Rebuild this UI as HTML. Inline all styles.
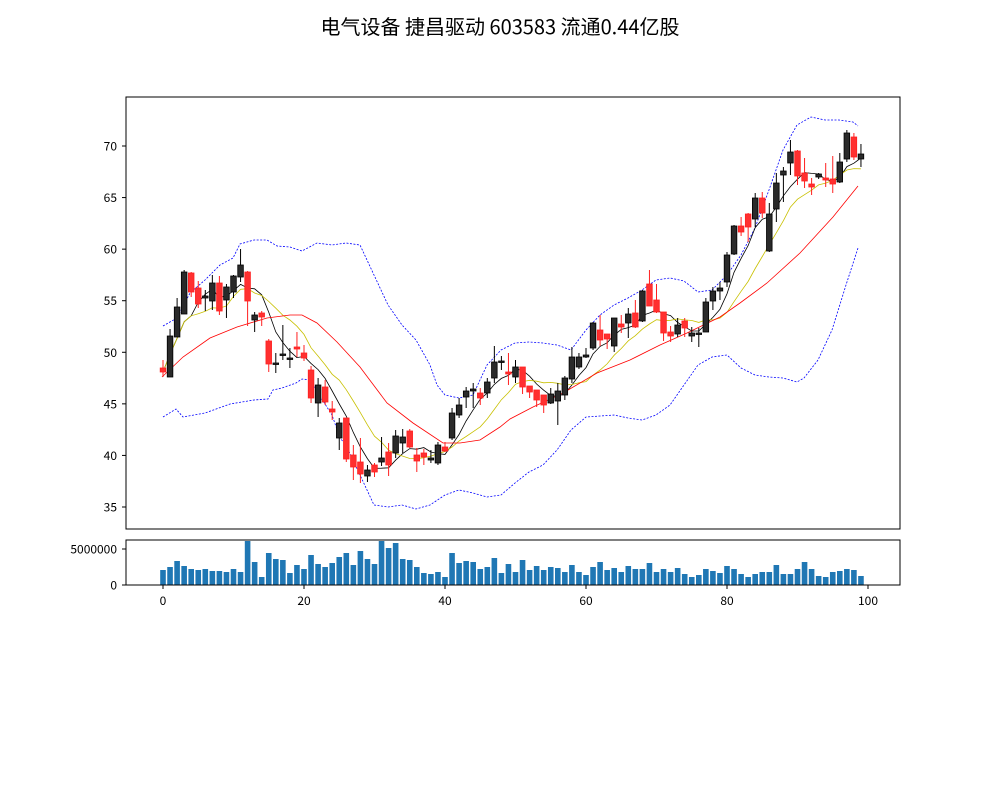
<!DOCTYPE html>
<html><head><meta charset="utf-8"><style>
body{margin:0;background:#fff;}
svg text{font-family:"WenQuanYi Zen Hei","Noto Sans CJK SC",sans-serif;}
</style></head><body>
<svg id="s" width="1000" height="800" xmlns="http://www.w3.org/2000/svg">
<rect width="1000" height="800" fill="#fff"/>
<text x="500" y="34" font-size="20" text-anchor="middle" fill="#000">电气设备 捷昌驱动 603583 流通0.44亿股</text>
<g id="g"></g>
<rect x="126" y="97" width="774" height="432" fill="none" stroke="#000" stroke-width="1"/>
<rect x="126" y="540" width="774" height="45" fill="none" stroke="#000" stroke-width="1"/>
</svg>
<script>
var C=[
[368,372,'r',360,377],[336,377,'b',329,377],[307,337,'b',298,337],[272,314,'b',270,314],[273,292,'r',272,297],
[288,304,'r',281,308],[296,298,'b',290,311],[283,301,'b',275,310],[283,311,'r',276,315],[287,300,'b',284,318],
[276,292,'b',275,298],[265,277,'b',249,282],[272,301,'r',271,326],[315,320,'b',312,332],[313,317,'r',311,326],
[341,364,'r',339,372],[363,364.5,'b',353,373],[354,355.5,'b',325,360],[358,359.5,'b',348,368],[347,349,'r',332,357],
[353,358,'r',345,361],[370,398,'r',366,403],[385,403,'b',378,417],[387,402,'r',380,405],[409,412,'r',401,420],
[423,438,'b',418,450],[418,459,'r',418,462],[455,467,'r',445,480],[462,474,'r',438,483],[470,476,'b',465,482],
[465,472,'r',463,477],[458,462,'b',437,466],[452,465,'r',443,476],[436,453,'b',430,458],[437,443,'b',429,453],
[431,447,'r',429,448],[455,461,'r',448,472],[453,457,'r',449,465],[458,460,'b',450,463],[445,463,'b',442,465],
[447,451,'r',442,452],[413,438,'b',408,440],[405,415,'b',398,418],[391,397,'b',387,408],[389,391,'b',383,408],
[393,398,'r',388,405],[382,393,'b',378,398],[362,378,'b',346,383],[361,362.5,'b',356,370],[372,374,'r',353,385],
[367,377,'b',360,383],[367,387,'r',367,394],[386,392,'r',386,398],[390,400,'r',390,407],[395,405,'r',395,413],
[394,403,'b',388,404],[391,401,'b',383,425],[378,395,'b',376,400],[357,379,'b',347,383],[357,367,'b',353,369],
[355,357,'b',348,358],[323,348,'b',322,350],[330,340,'r',315,346],[334,339,'r',334,349],[318,346,'b',318,352],
[324,327,'r',315,333],[314,323,'b',308,338],[313,327,'r',300,328],[291,321,'b',290,322],[284,306,'r',270,306],
[300,312,'r',284,313],[312,333,'r',312,341],[332,336,'r',326,342],[325,334,'b',318,337],[321,328,'r',318,337],
[333,336,'b',327,342],[333,334.5,'b',328,347],[302,332,'b',298,332],[291,301,'b',287,310],[288,291,'b',282,300],
[255,282,'b',252,287],[226,254,'b',225,255],[226,232,'r',217,236],[214,227,'r',213,242],[198,219,'b',193,227],
[198,213,'r',192,218],[214,251,'b',203,252],[183,209,'b',173,222],[171,175,'b',167,202],[152,163,'b',140,175],
[151,176,'r',150,185],[173,181,'r',158,188],[184,187,'r',178,195],[174,177,'b',173,179],[178,180,'r',163,187],
[179,184,'r',156,193],[162,182,'b',153,183],[133,159,'b',130,162],[137,157,'r',133,160],[154,159,'b',144,167]];
var V=[105,96,78,93,102,105,102,108,108,111,102,111,18,81,126,54,72,75,114,90,102,60,87,96,84,66,54,90,48,72,87,18,39,24,72,75,96,114,117,111,126,54,84,78,81,102,96,69,114,
87,111,75,105,93,105,96,99,111,90,111,120,96,81,105,99,111,93,102,102,84,111,102,111,99,117,126,120,102,108,114,93,102,117,126,117,111,111,90,117,117,102,81,102,123,126,111,108,102,105,123];
var up="163,326 177,318 190,293 205,280 220,265 233,258 240,244 254,240 267,240 277,246 290,247 302,251 317,243 332,245 346,243 360,245 374,275 388,305 402,325 416,340 430,365 437,385 445,395 459,398 473,395 487,365 501,350 515,343 529,342 543,343 557,345 571,350 586,330 600,315 614,305 628,298 642,290 656,280 670,278 684,281 698,292 712,290 727,275 741,255 755,228 769,190 783,150 797,125 811,117 825,120 839,120 853,122 858,126";
var lo="163,417 176,409 183,417 205,413 230,404 254,400 268,399 273,390 282,388 296,383 302,379 311,380 318,393 332,415 340,438 346,445 360,475 374,505 388,507 402,505 416,509 430,505 445,495 459,490 473,493 487,497 501,495 515,483 529,472 543,465 557,450 571,430 586,417 600,416 614,415 628,418 642,420 656,415 670,405 684,385 698,365 712,357 727,355 741,368 755,375 769,377 783,378 797,382 804,378 818,360 832,330 846,285 858,248";
var md="162,377 183,357 210,338 237,327 267,318 290,315 302,315 317,323 337,342 360,367 387,403 413,423 443,443 460,443 480,440 500,427 510,419 533,407 563,393 597,373 630,360 660,345 687,333 720,317 740,303 767,283 800,253 833,217 858,186";
var h='';
function X(i){return 163+i*7.05;}
for(var v=35;v<=70;v+=5){var y=146+(70-v)*10.314;h+='<line x1="122" y1="'+y+'" x2="126" y2="'+y+'" stroke="#000"/><text x="117" y="'+(y+4.5)+'" font-size="12" text-anchor="end">'+v+'</text>';}
for(var k=0;k<=100;k+=20){var x=163+k*7.05;h+='<line x1="'+x+'" y1="585" x2="'+x+'" y2="589" stroke="#000"/><text x="'+x+'" y="605" font-size="12" text-anchor="middle">'+k+'</text>';}
h+='<line x1="122" y1="549" x2="126" y2="549" stroke="#000"/><text x="117" y="553.5" font-size="12" text-anchor="end">5000000</text>';
h+='<line x1="122" y1="585" x2="126" y2="585" stroke="#000"/><text x="117" y="589.5" font-size="12" text-anchor="end">0</text>';
h+='<polyline points="'+up+'" fill="none" stroke="#00f" stroke-width="0.8" stroke-dasharray="2,1.5"/>';
h+='<polyline points="'+lo+'" fill="none" stroke="#00f" stroke-width="0.8" stroke-dasharray="2,1.5"/>';
var cl=C.map(function(c){return c[2]=='b'?c[0]:c[1];});
function ma(n,col){var p=[];for(var i=0;i<cl.length;i++){var s=0,m=0;for(var j=Math.max(0,i-n+1);j<=i;j++){s+=cl[j];m++;}p.push(X(i).toFixed(1)+','+(s/m).toFixed(1));}
h+='<polyline points="'+p.join(' ')+'" fill="none" stroke="'+col+'" stroke-width="0.8"/>';}
ma(5,'#000');ma(10,'#c8c000');
h+='<polyline points="'+md+'" fill="none" stroke="#ff0000" stroke-width="0.8"/>';
for(var i=0;i<C.length;i++){var c=C[i],x=X(i),red=c[2]=='r';var ec=red?'#ff2020':'#000',fc=red?'#ff3030':'#2a2a2a';
h+='<line x1="'+x+'" y1="'+c[3]+'" x2="'+x+'" y2="'+c[4]+'" stroke="'+ec+'" stroke-width="1"/>';
h+='<rect x="'+(x-2.8)+'" y="'+c[0]+'" width="5.6" height="'+Math.max(1,c[1]-c[0])+'" fill="'+fc+'" stroke="'+ec+'" stroke-width="0.8"/>';}
for(var i=0;i<V.length;i++){var hh=(150-V[i])/3;h+='<rect x="'+(X(i)-2.8)+'" y="'+(585-hh)+'" width="5.6" height="'+hh+'" fill="#1f77b4"/>';}
document.getElementById('g').innerHTML=h;
</script>
</body></html>
